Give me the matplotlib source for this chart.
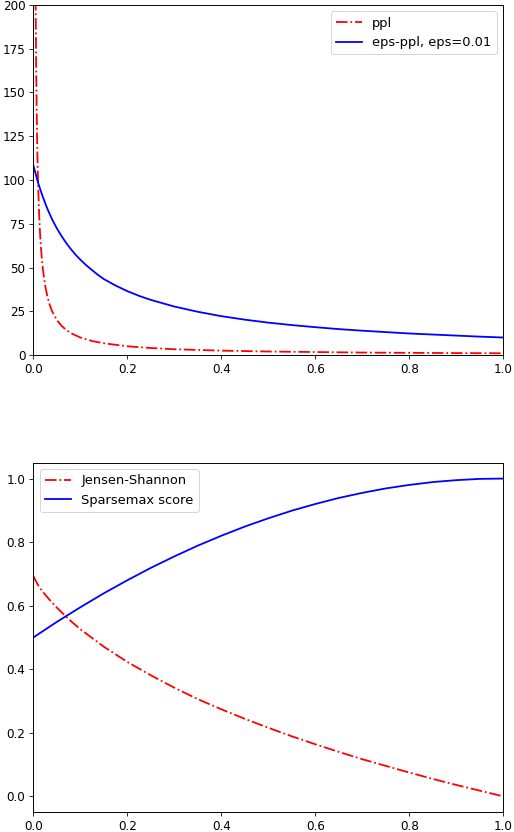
import matplotlib
matplotlib.use('Agg')
import matplotlib.pyplot as plt

# top panel: perplexity vs probability of the true token
ppl_x = [0.0045, 0.005, 0.006, 0.007, 0.008, 0.009, 0.01, 0.012, 0.014, 0.016, 0.018,
         0.02, 0.025, 0.03, 0.035, 0.04, 0.05, 0.06, 0.07, 0.08, 0.1, 0.125, 0.15,
         0.2, 0.25, 0.3, 0.4, 0.5, 0.6, 0.7, 0.8, 0.9, 1.0]
ppl_y = [222, 200, 167, 143, 125, 111, 100, 83, 71, 62.5, 55.5,
         50, 40, 33.3, 28.6, 25, 20, 16.7, 14.3, 12.5, 10, 8, 6.7,
         5, 4, 3.3, 2.5, 2, 1.7, 1.4, 1.25, 1.1, 1.0]

eps_x = [0.0, 0.01, 0.02, 0.03, 0.04, 0.05, 0.06, 0.07, 0.08, 0.09, 0.1, 0.1125, 0.125,
         0.1375, 0.15, 0.175, 0.2, 0.225, 0.25, 0.3, 0.35, 0.4, 0.45, 0.5, 0.55, 0.6,
         0.65, 0.7, 0.75, 0.8, 0.85, 0.9, 0.95, 1.0]
eps_y = [108.5, 98.5, 90.5, 83.5, 77.5, 72.4, 68, 64, 60.5, 57.3, 54.5, 51.3, 48.5,
         45.8, 43.4, 39.7, 36.5, 33.8, 31.5, 27.7, 24.7, 22.2, 20.2, 18.5, 17.1, 15.9,
         14.8, 13.9, 13.1, 12.3, 11.7, 11.1, 10.5, 10]

# bottom panel: Jensen-Shannon and sparsemax score
js_x = [0.0, 0.01, 0.02, 0.035, 0.05, 0.075, 0.1, 0.15, 0.2, 0.25, 0.3, 0.35, 0.4, 0.45,
        0.5, 0.55, 0.6, 0.65, 0.7, 0.75, 0.8, 0.85, 0.9, 0.95, 1.0]
js_y = [0.693, 0.665, 0.644, 0.618, 0.594, 0.558, 0.526, 0.471, 0.423, 0.381, 0.342,
        0.306, 0.274, 0.244, 0.216, 0.189, 0.164, 0.140, 0.117, 0.096, 0.075, 0.055,
        0.036, 0.018, 0.0]

sp_x = [0.0, 0.05, 0.1, 0.15, 0.2, 0.25, 0.3, 0.35, 0.4, 0.45, 0.5, 0.55, 0.6, 0.65,
        0.7, 0.75, 0.8, 0.85, 0.9, 0.95, 1.0]
sp_y = [0.5, 0.549, 0.595, 0.639, 0.68, 0.719, 0.755, 0.789, 0.82, 0.849, 0.875, 0.899,
        0.92, 0.939, 0.955, 0.969, 0.98, 0.989, 0.995, 0.999, 1.0]

plt.rcParams.update({
    'font.size': 12,
    'legend.fontsize': 13,
    'lines.linewidth': 1.8,
    'axes.linewidth': 0.95,
    'xtick.major.size': 4,
    'ytick.major.size': 4,
    'xtick.major.pad': 4,
    'ytick.major.pad': 4,
})

fig = plt.figure(figsize=(514 / 72, 832 / 72), dpi=72)

ax1 = fig.add_axes([0.0648, 0.5733, 0.9144, 0.4207])
ax1.plot(ppl_x, ppl_y, 'r-.', label='ppl')
ax1.plot(eps_x, eps_y, 'b-', label='eps-ppl, eps=0.01')
ax1.set_xlim(0, 1)
ax1.set_ylim(0, 200)
ax1.legend(loc='upper right')

ax2 = fig.add_axes([0.0648, 0.0237, 0.9144, 0.4202])
ax2.plot(js_x, js_y, 'r-.', label='Jensen-Shannon')
ax2.plot(sp_x, sp_y, 'b-', label='Sparsemax score')
ax2.set_xlim(0, 1)
ax2.set_ylim(-0.05, 1.05)
ax2.set_yticks([0.0, 0.2, 0.4, 0.6, 0.8, 1.0])
ax2.legend(loc='upper left')

fig.savefig('out.png', dpi=72)
